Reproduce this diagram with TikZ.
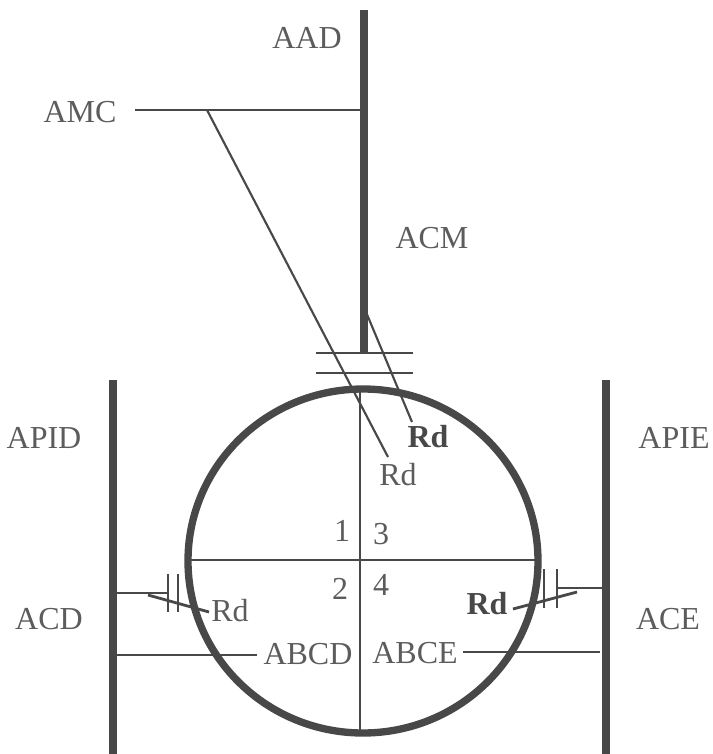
\documentclass[tikz,border=0pt]{standalone}
\usepackage{fontspec}
\setmainfont{Liberation Serif}
\usepackage{xcolor}
\definecolor{mygray}{RGB}{72,72,72}
\definecolor{mytext}{RGB}{92,92,92}
\tikzset{
  thick line/.style={color=mygray, line width=5.7pt},
  ring line/.style={color=mygray, line width=5.5pt},
  thin line/.style={color=mygray, line width=2.1pt},
  fine line/.style={color=mygray, line width=1.6pt},
  label text/.style={color=mytext, inner sep=0pt, font=\fontsize{24}{24}\selectfont},
  bold text/.style={label text, color=mygray, font=\fontsize{24}{24}\selectfont\bfseries}
}
\begin{document}
\begin{tikzpicture}[x=0.75pt,y=-0.75pt]
\useasboundingbox (0,0) rectangle (713,754);

% labels
\node[label text] (AAD) at (307,38) {AAD};
\node[label text] (AMC) at (80,112) {AMC};
\node[label text] (ACM) at (432,238) {ACM};
\node[label text] (APID) at (44,438) {APID};
\node[label text] (APIE) at (674,438) {APIE};
\node[label text] (ACD) at (49,619) {ACD};
\node[label text] (ACE) at (668,619) {ACE};
\node[label text] (ABCD) at (308,654) {ABCD};
\node[label text] (ABCE) at (415,653) {ABCE};
\node[label text] (one) at (342,531) {1};
\node[label text] (three) at (381,534) {3};
\node[label text] (two) at (340,589) {2};
\node[label text] (four) at (381,585) {4};
\node[label text] (RdC) at (398,475) {Rd};
\node[bold text] (RdM) at (428,437) {Rd};
\node[label text] (RdD) at (230,611) {Rd};
\node[bold text] (RdE) at (487,604) {Rd};

% walls and the ring
\coordinate (aadTop) at (364,10);
\coordinate (aadEnd) at (364,353);
\coordinate (wallLT) at (113,380);
\coordinate (wallLB) at (113,760);
\coordinate (wallRT) at (606,380);
\coordinate (wallRB) at (606,760);
\draw[thick line] (aadTop) -- (aadEnd);
\draw[thick line] (wallLT) -- (wallLB);
\draw[thick line] (wallRT) -- (wallRB);
\draw[ring line] (363,561) ellipse (175 and 172);

% cross inside the ring
\draw[thin line] (360,390) -- (360,735);
\draw[thin line] (190,560) -- (535,560);

% top
\coordinate (amcEnd) at (361,110);
\coordinate (amcStart) at (135,110);
\draw[thin line] (amcStart) -- (amcEnd);
\foreach \h in {353,373}{
  \draw[thin line] (316,\h) -- (413,\h);
}
\draw[fine line] (207,110) -- (388,457);
\draw[fine line] (366,312) -- (412,422);

% left side
\draw[thin line] (113,593) -- (168,593);
\foreach \x in {168,178}{
  \draw[fine line] (\x,574) -- (\x,612);
}
\draw[thin line] (148,595) -- (209,612);
\draw[thin line] (116,655) -- (257,655);

% right side
\draw[thin line] (557,588) -- (606,588);
\foreach \x in {544,557}{
  \draw[fine line] (\x,569) -- (\x,608);
}
\draw[thin line] (513,609) -- (577,592);
\draw[thin line] (463,652) -- (600,652);
\end{tikzpicture}
\end{document}
